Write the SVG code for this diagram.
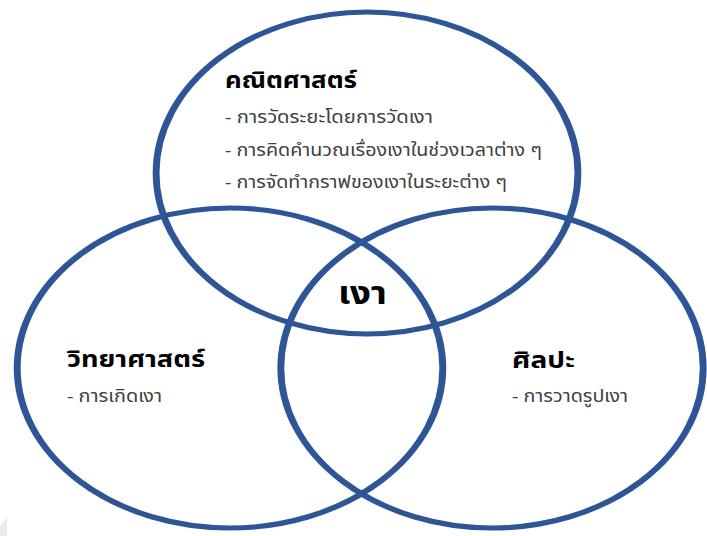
<svg xmlns="http://www.w3.org/2000/svg" width="707" height="536" viewBox="0 0 707 536">
<style>
.ring{fill:none;stroke:#2E5596;stroke-width:5.2}
.title{font-family:"Noto Sans Thai","Tahoma","Noto Sans","DejaVu Sans",sans-serif;font-weight:bold;font-size:23px;fill:#000}
.item{font-family:"Noto Sans Thai","Tahoma","Noto Sans","DejaVu Sans",sans-serif;font-size:17px;fill:#404040}
.center{font-family:"Noto Sans Thai","Tahoma","Noto Sans","DejaVu Sans",sans-serif;font-weight:bold;font-size:31px;fill:#000}
</style>
<rect width="707" height="536" fill="#fff"/>
<polygon points="0,536 0,527 7,517 7,536" fill="#ececec"/>
<g id="math">
<ellipse class="ring" cx="0" cy="0" rx="161" ry="161" transform="translate(367,173) scale(1.31,1)"/>
<text class="title" x="225" y="88" textLength="132" lengthAdjust="spacingAndGlyphs">คณิตศาสตร์</text>
<text class="item" x="225" y="123" textLength="208" lengthAdjust="spacingAndGlyphs">- การวัดระยะโดยการวัดเงา</text>
<text class="item" x="225" y="156" textLength="317" lengthAdjust="spacingAndGlyphs">- การคิดคำนวณเรื่องเงาในช่วงเวลาต่าง ๆ</text>
<text class="item" x="225" y="188" textLength="282" lengthAdjust="spacingAndGlyphs">- การจัดทำกราฟของเงาในระยะต่าง ๆ</text>
</g>
<g id="science">
<ellipse class="ring" cx="0" cy="0" rx="160" ry="160" transform="translate(230,368) scale(1.33,1)"/>
<text class="title" x="67" y="367" textLength="138" lengthAdjust="spacingAndGlyphs">วิทยาศาสตร์</text>
<text class="item" x="67" y="402" textLength="95" lengthAdjust="spacingAndGlyphs">- การเกิดเงา</text>
</g>
<g id="art">
<ellipse class="ring" cx="0" cy="0" rx="160" ry="160" transform="translate(492,368) scale(1.32,1)"/>
<text class="title" x="512" y="368" textLength="63" lengthAdjust="spacingAndGlyphs">ศิลปะ</text>
<text class="item" x="512" y="402" textLength="116" lengthAdjust="spacingAndGlyphs">- การวาดรูปเงา</text>
</g>
<g id="shadow">
<text class="center" x="338" y="304" textLength="49" lengthAdjust="spacingAndGlyphs">เงา</text>
</g>
<g id="connectors"></g>
</svg>
